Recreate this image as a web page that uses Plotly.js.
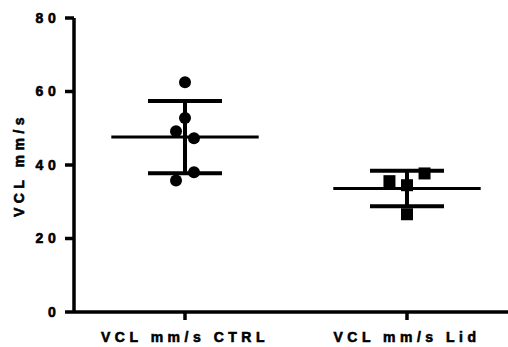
<!DOCTYPE html>
<html>
<head>
<meta charset="utf-8">
<script src="https://cdn.plot.ly/plotly-3.0.1.min.js"></script>
<style>
html,body{margin:0;padding:0;background:#fff;}
#chart{width:508px;height:347px;}
#chart .xtick text, #chart .ytick text, #chart text.ytitle{font-family:'Liberation Sans',Arial,sans-serif !important;font-weight:bold !important;font-size:14px !important;fill:#000 !important;letter-spacing:4.5px;stroke:#000;stroke-width:0.6px;paint-order:stroke;}
</style>
</head>
<body>
<div id="chart"></div>
<script>
const categories = ["VCL mm/s CTRL", "VCL mm/s Lid"];
const ctrlValues = [62.5, 52.8, 49.2, 47.3, 38.0, 35.8];
const lidValues = [35.6, 34.5, 37.7, 26.6];
const yTickVals = [0, 20, 40, 60, 80];
const yTickText = ["0", "20", "40", "60", "80"];
const yTitle = "VCL mm/s";

// jitter slots (style: horizontal dodge of overlapping points)
const ctrlSlots = [0, 0, -1, 1, 1, -1];
const lidSlots = [-1, 0, 1, 0];
const ctrlStep = 0.0405, lidStep = 0.079;

function mean(a){return a.reduce((s,v)=>s+v,0)/a.length;}
function sd(a){const m=mean(a);return Math.sqrt(a.reduce((s,v)=>s+(v-m)*(v-m),0)/(a.length-1));}

const groups = [ctrlValues, lidValues];
const means = groups.map(mean);
const sds = groups.map(sd);
const half = 0.332;
const yRange = [0, 80];

const traces = [];
groups.forEach((g,i)=>{
  traces.push({x:[i-half,i+half], y:[means[i],means[i]], mode:'lines', type:'scatter',
    line:{color:'#000', width:3}, hoverinfo:'skip', showlegend:false});
});
traces.push({x:[0,1], y:means, mode:'markers', type:'scatter', marker:{opacity:0, size:1},
  error_y:{type:'data', array:sds, visible:true, color:'#000', thickness:4, width:37},
  showlegend:false, hoverinfo:'skip'});
traces.push({x:ctrlValues.map((v,k)=>0+ctrlSlots[k]*ctrlStep), y:ctrlValues, mode:'markers', type:'scatter',
  marker:{symbol:'circle', size:12, color:'#000'}, showlegend:false});
traces.push({x:lidValues.map((v,k)=>1+lidSlots[k]*lidStep), y:lidValues, mode:'markers', type:'scatter',
  marker:{symbol:'square', size:12, color:'#000'}, showlegend:false});

// axis lines and ticks as shapes
const axisLine = {color:'#000', width:3.5};
const shapes = [
  {type:'line', xref:'paper', yref:'paper', x0:0, x1:0, y0:0, y1:1, line:axisLine, layer:'above'},
  {type:'line', xref:'paper', yref:'paper', x0:0, x1:1, y0:0, y1:0, line:axisLine, layer:'above'}
];
yTickVals.forEach(v=>{
  const f = (v - yRange[0])/(yRange[1]-yRange[0]);
  shapes.push({type:'line', xref:'paper', yref:'paper', xsizemode:'pixel', xanchor:0, x0:-9, x1:0,
    y0:f, y1:f, line:axisLine, layer:'above'});
});
categories.forEach((c,i)=>{
  shapes.push({type:'line', xref:'x', yref:'paper', ysizemode:'pixel', yanchor:0, y0:-8, y1:0,
    x0:i, x1:i, line:axisLine, layer:'above'});
});

const font = {family:'Liberation Sans, Arial, sans-serif', size:14, color:'#000', weight:'bold'};

const layout = {
  width:508, height:347,
  margin:{l:74, r:0, t:18, b:35},
  showlegend:false,
  shapes:shapes,
  xaxis:{range:[-0.5,1.455], tickvals:[0,1], ticktext:categories, showgrid:false, zeroline:false,
    showline:false, ticks:'outside', ticklen:8, tickwidth:3, tickcolor:'rgba(0,0,0,0)',
    tickfont:font},
  yaxis:{range:yRange, tickvals:yTickVals, ticktext:yTickText, showgrid:false, zeroline:false,
    showline:false, ticks:'outside', ticklen:10, tickwidth:3, tickcolor:'rgba(0,0,0,0)',
    tickfont:font, title:{text:yTitle, font:font, standoff:16}}
};

Plotly.newPlot('chart', traces, layout, {displayModeBar:false}).then(()=>{
  document.querySelectorAll('#chart .xtick text').forEach(t=>{
    t.setAttribute('y', String(parseFloat(t.getAttribute('y')) + 4));
  });
});
</script>
</body>
</html>
